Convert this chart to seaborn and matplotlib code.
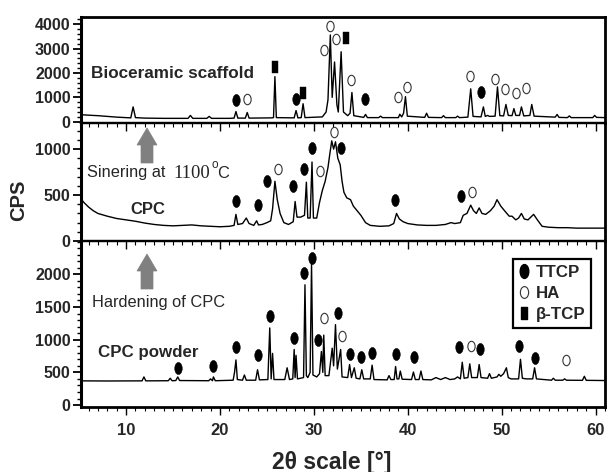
import numpy as np
import pandas as pd
import matplotlib
matplotlib.use("Agg")
import matplotlib.pyplot as plt
from matplotlib.path import Path
from matplotlib.lines import Line2D
from matplotlib.patches import Polygon
from matplotlib.ticker import MultipleLocator, FixedLocator
import seaborn as sns

# ---------------- data ----------------
scaffold_2theta = [5.2, 6, 7, 8, 9, 10, 10.5, 10.75, 11.0, 12, 14, 16.6, 16.85, 17.1, 18.6, 18.85, 19.1,
                   21.0, 21.5, 21.7, 21.9, 22.7, 22.9, 23.1, 25.5, 25.7, 25.85, 26.0, 27.9, 28.1, 28.3,
                   28.65, 28.85, 29.05, 30.9, 31.3, 31.5, 31.75, 31.95, 32.2, 32.45, 32.6, 32.9, 33.15,
                   33.6, 33.85, 34.05, 34.25, 35.3, 35.5, 35.7, 36.9, 37.1, 37.3, 39.0, 39.15, 39.35,
                   39.55, 39.75, 39.95, 41.8, 42.0, 42.2, 43.6, 43.8, 44.0, 45.1, 45.3, 45.5, 46.4, 46.7,
                   46.95, 47.8, 48.05, 48.25, 48.5, 48.7, 49.3, 49.55, 49.8, 50.2, 50.45, 50.7, 51.1,
                   51.3, 51.5, 51.9, 52.1, 52.35, 53.0, 53.2, 53.45, 55.7, 55.9, 56.1, 57.0, 57.2, 57.4,
                   59.7, 59.9, 60.1, 61.0]
scaffold_cps = [290, 270, 250, 220, 190, 170, 160, 610, 170, 150, 140, 140, 260, 140, 140, 220, 140,
                140, 150, 420, 150, 150, 380, 150, 160, 170, 1850, 170, 160, 460, 160,
                170, 740, 170, 200, 400, 900, 3560, 1000, 2450, 700, 400, 2870, 400,
                250, 350, 1200, 250, 180, 300, 170, 170, 230, 170, 170, 310, 200,
                350, 1030, 230, 180, 350, 180, 170, 250, 170, 170, 230, 170, 190, 1350,
                220, 200, 610, 220, 260, 220, 230, 1430, 250, 240, 710, 260, 250,
                540, 260, 260, 610, 240, 260, 710, 230, 190, 300, 180, 170, 240, 170,
                170, 260, 180, 170]

cpc_2theta = [5.2, 5.5, 6, 6.5, 7, 8, 9, 10, 11, 12, 13, 14, 15, 16, 17, 18, 19, 20, 21, 21.5, 21.7,
              21.9, 22.4, 22.8, 23.1, 23.6, 23.9, 24.1, 24.5, 25.0, 25.4, 25.6, 25.85, 26.1, 26.4,
              26.8, 27.3, 27.8, 28.0, 28.2, 28.6, 29.0, 29.2, 29.35, 29.6, 29.8, 29.95, 30.3, 30.6,
              30.9, 31.2, 31.5, 31.7, 31.9, 32.1, 32.3, 32.55, 32.8, 33.0, 33.2, 33.5, 33.9, 34.2,
              34.6, 35.0, 35.5, 36, 37, 38, 38.5, 38.8, 39.1, 39.5, 40, 41, 42, 43, 44, 44.6, 45,
              45.6, 45.9, 46.3, 46.7, 47.0, 47.3, 47.6, 47.9, 48.3, 48.8, 49.2, 49.5, 49.9, 50.3,
              50.8, 51.1, 51.5, 51.8, 52.1, 52.4, 52.8, 53.4, 53.8, 54.3, 55, 56, 57, 58, 59, 60, 61]
cpc_cps = [460, 420, 370, 330, 300, 270, 245, 230, 215, 195, 180, 170, 165, 170, 175, 165, 160, 155,
           160, 170, 290, 180, 190, 250, 190, 170, 220, 175, 180, 200, 220, 350, 650, 450, 300,
           200, 180, 210, 430, 260, 260, 280, 640, 250, 250, 860, 250, 250, 420,
           550, 650, 800, 950, 1090, 1000, 1080, 900, 830, 650, 530, 470, 450, 380,
           330, 280, 200, 170, 160, 165, 190, 300, 240, 210, 190, 175, 170, 170, 180, 200, 190,
           200, 280, 300, 390, 330, 300, 360, 300, 290, 330, 380, 450, 380, 330,
           270, 270, 230, 250, 300, 240, 230, 290, 230, 160, 150, 145, 145, 140, 140, 140, 140]

powder_2theta = [5.2, 8, 10, 11.7, 11.9, 12.1, 14.5, 14.7, 14.9, 15.3, 15.5, 15.7, 18.8, 19.0, 19.2,
                 19.3, 19.5, 21.4, 21.55, 21.7, 21.85, 22.4, 22.6, 22.8, 23.8, 24.0, 24.2, 25.1, 25.3,
                 25.45, 25.6, 25.75, 26.9, 27.15, 27.4, 27.75, 27.9, 28.0, 28.1, 28.25, 28.9, 29.05,
                 29.2, 29.35, 29.6, 29.75, 29.9, 30.3, 30.6, 30.8, 30.95, 31.05, 31.2, 31.6, 31.95,
                 32.1, 32.3, 32.5, 32.85, 33.0, 33.6, 33.8, 34.0, 34.3, 34.5, 34.9, 35.1, 35.3, 36.0,
                 36.2, 36.4, 37.8, 38.0, 38.2, 38.55, 38.7, 38.85, 39.05, 39.2, 39.4, 40.4, 40.6, 40.8,
                 41.2, 41.4, 41.6, 42.5, 43.0, 43.5, 44.0, 44.5, 45.0, 45.3, 45.6, 45.8, 46.0, 46.4,
                 46.6, 46.8, 47.4, 47.6, 47.8, 48.5, 48.7, 48.9, 49.5, 49.7, 49.9, 50.2, 50.5, 50.7,
                 51.0, 51.8, 52.0, 52.2, 52.6, 53.3, 53.5, 53.7, 55.3, 55.5, 55.7, 56.5, 56.7, 56.9,
                 58.6, 58.8, 59.0, 61.0]
powder_cps = [370, 368, 370, 370, 430, 370, 372, 410, 372, 375, 430, 375, 372, 400, 372,
              430, 372, 380, 500, 690, 390, 380, 460, 380, 380, 540, 385, 390, 1180,
              400, 790, 390, 390, 570, 390, 400, 850, 420, 760, 400, 420, 1840,
              450, 420, 500, 2160, 460, 430, 480, 820, 500, 1070, 450, 450, 870,
              600, 1230, 550, 850, 430, 420, 620, 420, 570, 410, 400, 540, 400, 400,
              610, 390, 385, 450, 390, 390, 590, 400, 400, 520, 395, 390, 505, 390,
              390, 520, 390, 385, 420, 390, 420, 390, 400, 430, 400, 655, 410, 420,
              630, 420, 420, 620, 420, 410, 480, 410, 430, 470, 440, 480, 570, 420,
              400, 400, 700, 410, 400, 400, 570, 400, 380, 410, 380, 380, 400, 380,
              378, 440, 378, 375]

# phase markers (2theta, CPS) per panel
scaffold_ttcp_x = [21.7, 28.1, 35.4, 47.8]
scaffold_ttcp_y = [900, 940, 940, 1230]
scaffold_ha_x = [22.9, 31.1, 31.7, 32.4, 34.0, 39.0, 39.9, 46.6, 49.3, 50.4, 51.5, 52.6]
scaffold_ha_y = [940, 2940, 3920, 3390, 1710, 1020, 1430, 1880, 1750, 1340, 1180, 1380]
scaffold_btcp_x = [25.85, 28.8, 33.4]
scaffold_btcp_y = [2250, 1180, 3430]

cpc_ttcp_x = [21.7, 24.0, 25.0, 27.8, 28.9, 29.8, 32.9, 38.6, 45.7]
cpc_ttcp_y = [440, 390, 650, 600, 780, 1010, 1010, 450, 490]
cpc_ha_x = [26.2, 30.6, 32.1, 46.8]
cpc_ha_y = [780, 760, 1185, 530]

powder_ttcp_x = [15.5, 19.3, 21.7, 24.0, 25.3, 27.9, 29.0, 29.75, 30.4, 32.6, 33.8, 35.0, 36.2,
                 38.7, 40.7, 45.5, 47.7, 51.8, 53.5]
powder_ttcp_y = [570, 600, 895, 760, 1355, 1030, 2020, 2255, 990, 1415, 780, 730, 790,
                 780, 730, 890, 865, 900, 715]
powder_ha_x = [31.05, 33.0, 46.7, 56.8]
powder_ha_y = [1330, 1055, 900, 690]

phase_labels = ["TTCP", "HA", "\u03b2-TCP"]
x_ticks = [10, 20, 30, 40, 50, 60]
scaffold_yticks = [0, 1000, 2000, 3000, 4000]
cpc_yticks = [0, 500, 1000]
powder_yticks = [0, 500, 1000, 1500, 2000]

# ---------------- style ----------------
sns.set_theme(style="white")
plt.rcParams["font.family"] = ["Liberation Sans", "DejaVu Sans"]

W, H = 608, 472
fig = plt.figure(figsize=(W / 100, H / 100), dpi=100)
fig.patch.set_facecolor("white")


def fx(px):
    return px / W


def fy(py):
    return 1 - py / H


left, right = 81, 605
panels_px = [(17, 122.5), (122.5, 241), (241, 407)]
axes = []
for top, bot in panels_px:
    ax = fig.add_axes([fx(left), fy(bot), fx(right) - fx(left), (bot - top) / H])
    ax.patch.set_alpha(0)
    axes.append(ax)
ax_top, ax_mid, ax_bot = axes

# markers
circ = Path.unit_circle()
ttcp_marker = Path(circ.vertices * np.array([0.62, 1.0]), circ.codes)
ha_marker = Path(circ.vertices * np.array([0.70, 1.0]), circ.codes)
btcp_marker = Path([(-0.5, -1), (0.5, -1), (0.5, 1), (-0.5, 1), (-0.5, -1)],
                   [Path.MOVETO, Path.LINETO, Path.LINETO, Path.LINETO, Path.CLOSEPOLY])

traces = [(ax_top, scaffold_2theta, scaffold_cps),
          (ax_mid, cpc_2theta, cpc_cps),
          (ax_bot, powder_2theta, powder_cps)]
for ax, xs, ys in traces:
    sns.lineplot(x=xs, y=ys, ax=ax, color="black", lw=1.0, sort=False, estimator=None)


def put(ax, xs, ys, kind):
    if kind == "ttcp":
        sns.scatterplot(x=xs, y=ys, ax=ax, marker=ttcp_marker, s=78, color="black",
                        edgecolor="black", linewidth=0.3, clip_on=False, zorder=5)
    elif kind == "ha":
        sns.scatterplot(x=xs, y=ys, ax=ax, marker=ha_marker, s=56, facecolor="white",
                        edgecolor="#333333", linewidth=0.8, clip_on=False, zorder=5)
    else:
        sns.scatterplot(x=xs, y=ys, ax=ax, marker=btcp_marker, s=64, color="black",
                        edgecolor="black", linewidth=0.3, clip_on=False, zorder=5)


put(ax_top, scaffold_ttcp_x, scaffold_ttcp_y, "ttcp")
put(ax_top, scaffold_ha_x, scaffold_ha_y, "ha")
put(ax_top, scaffold_btcp_x, scaffold_btcp_y, "btcp")
put(ax_mid, cpc_ttcp_x, cpc_ttcp_y, "ttcp")
put(ax_mid, cpc_ha_x, cpc_ha_y, "ha")
put(ax_bot, powder_ttcp_x, powder_ttcp_y, "ttcp")
put(ax_bot, powder_ha_x, powder_ha_y, "ha")

# axes limits and ticks
ylims = [(-30, 4295), (0, 1290), (-30, 2510)]
yticks = [scaffold_yticks, cpc_yticks, powder_yticks]
ymin = [200, 100, 100]
for ax, yl, yt, mn in zip(axes, ylims, yticks, ymin):
    ax.set_xlim(5.2, 61)
    ax.set_ylim(*yl)
    ax.yaxis.set_major_locator(FixedLocator(yt))
    ax.yaxis.set_minor_locator(MultipleLocator(mn))
    ax.set_xticks(x_ticks)
    ax.xaxis.set_minor_locator(MultipleLocator(1))
    ax.tick_params(axis="y", which="major", direction="out", length=6, width=1.3,
                   color="black", labelsize=11.5, pad=1.5, left=True)
    ax.tick_params(axis="y", which="minor", direction="out", length=3, width=1.0,
                   color="black", left=True)
    ax.tick_params(axis="x", which="major", direction="out", length=5.5, width=1.0,
                   color="black", bottom=True, top=False, labelsize=12, pad=6)
    ax.tick_params(axis="x", which="minor", direction="out", length=3, width=0.8,
                   color="black", bottom=True, top=False)
    for lab in ax.get_yticklabels() + ax.get_xticklabels():
        lab.set_fontweight("bold")
    for name, sp in ax.spines.items():
        sp.set_visible(True)
        sp.set_color("black")
        sp.set_linewidth(1.6)
    ax.spines["left"].set_linewidth(2.2)
    ax.spines["right"].set_linewidth(2.0)
    ax.set_xlabel("")
    ax.set_ylabel("")
    ax.grid(False)

ax_top.spines["top"].set_linewidth(2.0)
ax_bot.spines["bottom"].set_linewidth(2.0)
for ax in (ax_top, ax_mid):
    ax.tick_params(axis="x", labelbottom=False)

# axis titles
fig.text(fx(332), fy(462), "2\u03b8 scale [\u00b0]", ha="center", va="center",
         fontsize=16.5, fontweight="bold")
fig.text(fx(19), fy(200), "CPS", ha="center", va="center", rotation=90,
         fontsize=14.5, fontweight="bold")

# panel annotations
fig.text(fx(91), fy(73.5), "Bioceramic scaffold", ha="left", va="center",
         fontsize=12.3, fontweight="bold")
fig.text(fx(130), fy(209), "CPC", ha="left", va="center", fontsize=12, fontweight="bold")
fig.text(fx(98), fy(353), "CPC powder", ha="left", va="center", fontsize=12.2, fontweight="bold")
fig.text(fx(92), fy(302), "Hardening of CPC", ha="left", va="center", fontsize=11.8)
fig.text(fx(87), fy(173), "Sinering at", ha="left", va="center", fontsize=11.8)
fig.text(fx(173), fy(173.5), "1100", ha="left", va="center", fontsize=13.5,
         family="Liberation Serif")
fig.text(fx(212), fy(165), "o", ha="left", va="center", fontsize=8.5)
fig.text(fx(217.5), fy(173), "C", ha="left", va="center", fontsize=11.8)


def arrow(cx, tip, head_base, bottom):
    hw, sw = 10, 6
    pts = [(cx, tip), (cx + hw, head_base), (cx + sw, head_base), (cx + sw, bottom),
           (cx - sw, bottom), (cx - sw, head_base), (cx - hw, head_base)]
    poly = Polygon([(fx(x), fy(y)) for x, y in pts], closed=True, transform=fig.transFigure,
                   facecolor="#808080", edgecolor="#808080", lw=0.5)
    fig.patches.append(poly)


arrow(147, 128, 145, 163)
arrow(147, 254, 271, 289)

# legend
handles = [
    Line2D([], [], linestyle="none", marker=ttcp_marker, markersize=10, markerfacecolor="black",
           markeredgecolor="black"),
    Line2D([], [], linestyle="none", marker=ha_marker, markersize=8.5, markerfacecolor="white",
           markeredgecolor="#333333", markeredgewidth=0.8),
    Line2D([], [], linestyle="none", marker=btcp_marker, markersize=8.5, markerfacecolor="black",
           markeredgecolor="black"),
]
leg = ax_bot.legend(handles, phase_labels, loc="upper right",
                    bbox_to_anchor=((591 - left) / (right - left), (407 - 259) / (407 - 241)),
                    borderaxespad=0, frameon=True, fancybox=False, framealpha=1,
                    edgecolor="black", handlelength=0.6, handletextpad=0.35,
                    labelspacing=0.35, borderpad=0.35,
                    prop={"weight": "bold", "size": 12.2})
leg.get_frame().set_linewidth(1.6)

fig.savefig("out.png", dpi=100, facecolor="white")
